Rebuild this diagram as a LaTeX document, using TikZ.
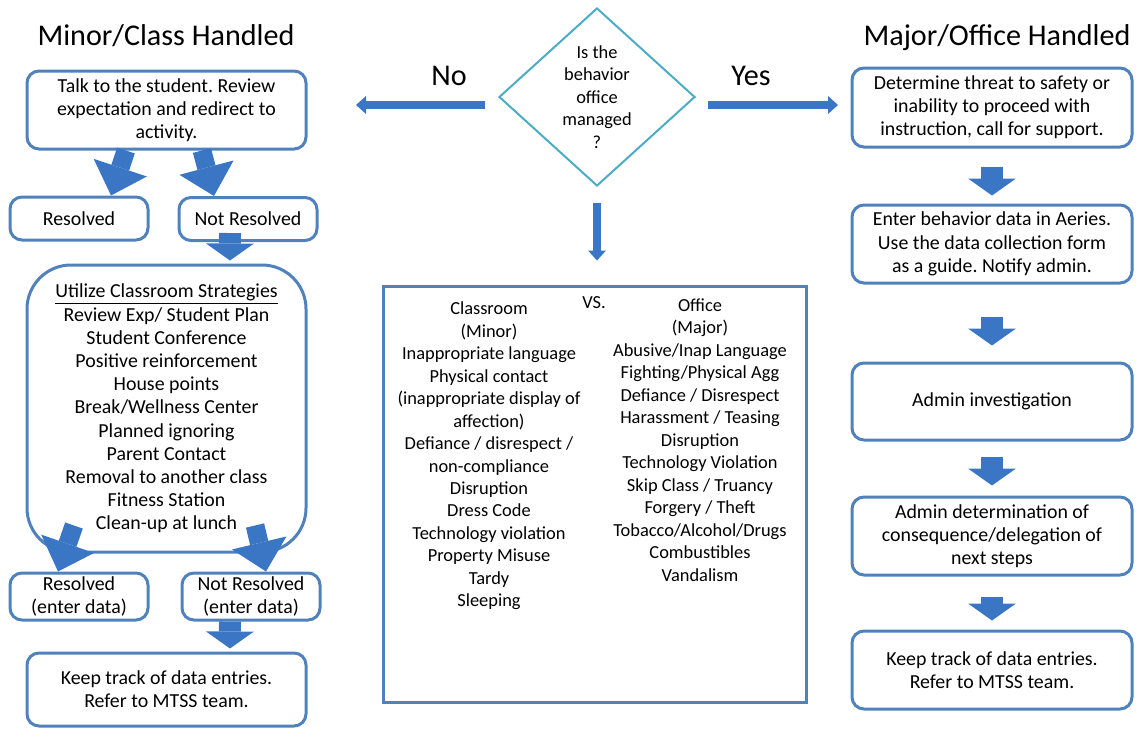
\documentclass[tikz,border=0pt]{standalone}
\usepackage{fontspec}
\setmainfont{Carlito}
\usepackage{tikz}
\usetikzlibrary{arrows.meta,shapes.geometric}
\frenchspacing

\definecolor{boxblue}{RGB}{79,129,189}
\definecolor{arrowblue}{RGB}{58,118,196}
\definecolor{diamondteal}{RGB}{75,172,198}

\tikzset{
  headline/.style={anchor=base, inner sep=0pt, font=\fontsize{22.6}{26}\selectfont},
  stepbox/.style={draw=boxblue, line width=2.25pt, rounded corners=9pt, align=center, inner sep=0pt, font=\fontsize{14.9}{17.4}\selectfont},
  listbox/.style={draw=boxblue, line width=2.25pt, inner sep=0pt},
  listtext/.style={align=center, inner sep=0pt, font=\fontsize{13.8}{16.85}\selectfont},
  decision/.style={diamond, draw=diamondteal, line width=1.5pt, inner sep=0pt, align=center, font=\fontsize{13.8}{16.9}\selectfont},
  thinarrow/.style={color=arrowblue, line width=6pt, -{Triangle[length=7.5pt,width=13.5pt,line width=0pt]}},
  fatarrow/.style={color=arrowblue, line width=16.5pt, -{Triangle[length=12.75pt,width=36pt,line width=0pt]}},
  bigarrow/.style={color=arrowblue, line width=14pt, -{Triangle[length=22pt,width=42pt,line width=0pt]}}
}

\begin{document}
\begin{tikzpicture}[x=0.75pt,y=0.75pt,yscale=-1,xscale=1]
\useasboundingbox (0,0) rectangle (1138,728);

% Text Node
\node[headline] (minortitle) at (166,45) {Minor/Class Handled};
% Text Node
\node[headline] (majortitle) at (997,45) {Major/Office Handled};

%Shape: Diamond
\node[decision, minimum width=147pt, minimum height=133.5pt] (query) at (597,97) {Is the\\behavior\\office\\managed\\?};
% Text Node
\node[headline] (no) at (449,85) {No};
% Text Node
\node[headline] (yes) at (751,85) {Yes};

%Rounded Rect
\node[stepbox, minimum width=209.25pt, minimum height=58.5pt] (talk) at (166.5,110) {Talk to the student. Review\\expectation and redirect to\\activity.};
\node[stepbox, minimum width=103.5pt, minimum height=32.25pt] (res) at (79,218.5) {Resolved};
\node[stepbox, minimum width=103.5pt, minimum height=32.25pt] (notres) at (248,219) {Not Resolved};
\node[stepbox, rounded corners=33pt, minimum width=209.25pt, minimum height=215.25pt] (strat) at (166.5,408.5) {\underline{Utilize Classroom Strategies}\\Review Exp/ Student Plan\\Student Conference\\Positive reinforcement\\House points\\Break/Wellness Center\\Planned ignoring\\Parent Contact\\Removal to another class\\Fitness Station\\Clean-up at lunch};
\node[stepbox, minimum width=103.5pt, minimum height=35.25pt] (resdata) at (79,596.5) {Resolved\\(enter data)};
\node[stepbox, minimum width=103.5pt, minimum height=35.25pt] (notresdata) at (251,596.5) {Not Resolved\\(enter data)};
\node[stepbox, minimum width=209.25pt, minimum height=54.75pt] (trackL) at (166.5,689.5) {Keep track of data entries.\\Refer to MTSS team.};

%Shape: Rectangle
\node[listbox, minimum width=317.25pt, minimum height=312pt] (list) at (594.5,494) {};
% Text Node
\node[listtext] (minorlist) at (489,456) {Classroom\\(Minor)\\Inappropriate language\\Physical contact\\(inappropriate display of\\affection)\\Defiance / disrespect /\\non-compliance\\Disruption\\Dress Code\\Technology violation\\Property Misuse\\Tardy\\Sleeping};
% Text Node
\node[listtext] (vs) at (594,303) {VS.};
% Text Node
\node[listtext] (majorlist) at (700,440) {Office\\(Major)\\Abusive/Inap Language\\Fighting/Physical Agg\\Defiance / Disrespect\\Harassment / Teasing\\Disruption\\Technology Violation\\Skip Class / Truancy\\Forgery / Theft\\Tobacco/Alcohol/Drugs\\Combustibles\\Vandalism};

%Rounded Rect
\node[stepbox, minimum width=210pt, minimum height=59.25pt] (threat) at (992,107.5) {Determine threat to safety or\\inability to proceed with\\instruction, call for support.};
\node[stepbox, minimum width=210pt, minimum height=58.5pt] (enter) at (992,244) {Enter behavior data in Aeries.\\Use the data collection form\\as a guide. Notify admin.};
\node[stepbox, minimum width=210pt, minimum height=57.75pt] (investigate) at (992,401.5) {Admin investigation};
\node[stepbox, minimum width=210pt, minimum height=58.5pt] (determine) at (992,536) {Admin determination of\\consequence/delegation of\\next steps};
\node[stepbox, minimum width=210pt, minimum height=58.5pt] (trackR) at (992,670) {Keep track of data entries.\\Refer to MTSS team.};

%Straight Lines
\coordinate (nogo) at (356,105);
\coordinate (yesgo) at (838,105);
\draw[thinarrow] ([xshift=-9.75pt,yshift=6pt]query.west) -- (nogo);
\draw[thinarrow] ([xshift=9pt,yshift=6pt]query.east) -- (yesgo);
\draw[thinarrow, shorten <=12pt, shorten >=18pt] (query.south) -- (query.south |- list.north);

%Block Arrows
\draw[bigarrow] ([xshift=-30.4pt]talk.south) -- ([xshift=24pt]res.north);
\draw[bigarrow] ([xshift=26.6pt]talk.south) -- ([xshift=-25.5pt]notres.north);
\draw[fatarrow] ([xshift=-13.5pt,yshift=-6.75pt]notres.south) -- ([xshift=47.6pt,yshift=-2.25pt]strat.north);
\draw[bigarrow] ([xshift=-69.4pt,yshift=-21pt]strat.south) -- ([xshift=-15.75pt]resdata.north);
\draw[bigarrow] ([xshift=66.4pt,yshift=-21pt]strat.south) -- ([xshift=11.25pt]notresdata.north);
\draw[fatarrow] ([xshift=-15.75pt]notresdata.south) -- ([xshift=47.6pt,yshift=-2.25pt]trackL.north);

\draw[fatarrow, shorten <=13.5pt, shorten >=6pt] (threat) -- (enter);
\draw[fatarrow, shorten <=24pt, shorten >=12pt] (enter) -- (investigate);
\draw[fatarrow, shorten <=11.25pt, shorten >=7.5pt] (investigate) -- (determine);
\draw[fatarrow, shorten <=15pt, shorten >=6.75pt] (determine) -- (trackR);

\end{tikzpicture}
\end{document}
